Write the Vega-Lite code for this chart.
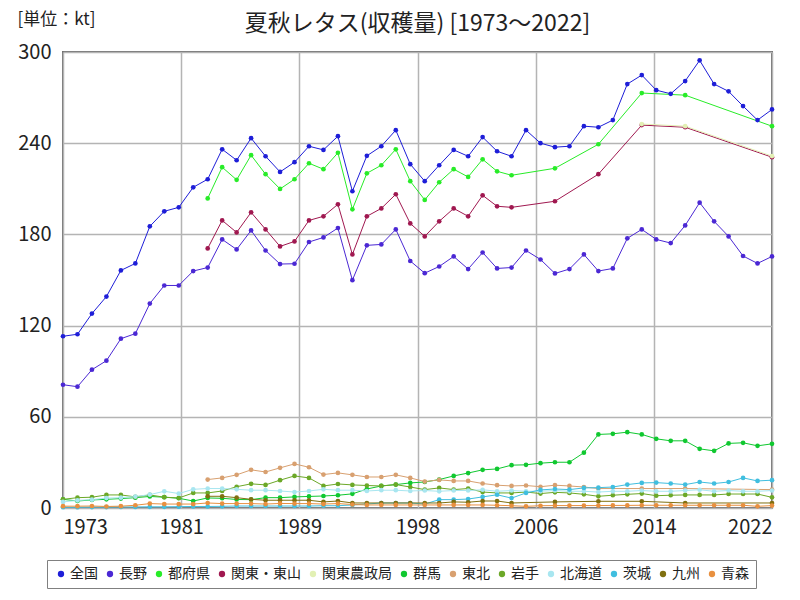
{
  "$schema": "https://vega.github.io/schema/vega-lite/v6.json",
  "width": 709,
  "height": 456,
  "autosize": {"type": "none"},
  "padding": {"left": 63, "top": 52, "right": 28, "bottom": 92},
  "background": "white",
  "title": {
    "text": "夏秋レタス(収穫量) [1973～2022]",
    "fontSize": 23,
    "font": "Noto Sans CJK JP",
    "fontWeight": "normal",
    "color": "#222",
    "anchor": "middle",
    "frame": "group",
    "offset": 8,
    "dy": 34
  },
  "config": {
    "view": {"stroke": "#707070", "strokeWidth": 2},
    "font": "Noto Sans CJK JP"
  },
  "data": {"values": [
{"s":"全国","y":1973,"v":113.0},{"s":"全国","y":1974,"v":114.3},{"s":"全国","y":1975,"v":127.9},{"s":"全国","y":1976,"v":139.1},{"s":"全国","y":1977,"v":156.3},{"s":"全国","y":1978,"v":160.9},{"s":"全国","y":1979,"v":185.3},{"s":"全国","y":1980,"v":195.2},{"s":"全国","y":1981,"v":197.8},{"s":"全国","y":1982,"v":211.0},{"s":"全国","y":1983,"v":216.3},{"s":"全国","y":1984,"v":236.0},{"s":"全国","y":1985,"v":228.8},{"s":"全国","y":1986,"v":243.3},{"s":"全国","y":1987,"v":231.4},{"s":"全国","y":1988,"v":221.1},{"s":"全国","y":1989,"v":227.5},{"s":"全国","y":1990,"v":238.0},{"s":"全国","y":1991,"v":235.6},{"s":"全国","y":1992,"v":244.6},{"s":"全国","y":1993,"v":208.4},{"s":"全国","y":1994,"v":231.7},{"s":"全国","y":1995,"v":238.0},{"s":"全国","y":1996,"v":248.6},{"s":"全国","y":1997,"v":226.2},{"s":"全国","y":1998,"v":215.0},{"s":"全国","y":1999,"v":225.5},{"s":"全国","y":2000,"v":235.6},{"s":"全国","y":2001,"v":231.4},{"s":"全国","y":2002,"v":244.0},{"s":"全国","y":2003,"v":234.7},{"s":"全国","y":2004,"v":231.4},{"s":"全国","y":2005,"v":248.6},{"s":"全国","y":2006,"v":240.0},{"s":"全国","y":2007,"v":237.4},{"s":"全国","y":2008,"v":238.0},{"s":"全国","y":2009,"v":251.2},{"s":"全国","y":2010,"v":250.5},{"s":"全国","y":2011,"v":255.2},{"s":"全国","y":2012,"v":278.9},{"s":"全国","y":2013,"v":284.8},{"s":"全国","y":2014,"v":274.9},{"s":"全国","y":2015,"v":272.5},{"s":"全国","y":2016,"v":280.9},{"s":"全国","y":2017,"v":294.5},{"s":"全国","y":2018,"v":278.9},{"s":"全国","y":2019,"v":274.1},{"s":"全国","y":2020,"v":264.4},{"s":"全国","y":2021,"v":255.2},{"s":"全国","y":2022,"v":262.2},
{"s":"長野","y":1973,"v":81.1},{"s":"長野","y":1974,"v":79.8},{"s":"長野","y":1975,"v":91.0},{"s":"長野","y":1976,"v":96.9},{"s":"長野","y":1977,"v":111.4},{"s":"長野","y":1978,"v":114.7},{"s":"長野","y":1979,"v":134.5},{"s":"長野","y":1980,"v":146.4},{"s":"長野","y":1981,"v":146.4},{"s":"長野","y":1982,"v":155.9},{"s":"長野","y":1983,"v":158.2},{"s":"長野","y":1984,"v":176.7},{"s":"長野","y":1985,"v":170.1},{"s":"長野","y":1986,"v":182.6},{"s":"長野","y":1987,"v":169.4},{"s":"長野","y":1988,"v":160.5},{"s":"長野","y":1989,"v":160.7},{"s":"長野","y":1990,"v":175.0},{"s":"長野","y":1991,"v":178.0},{"s":"長野","y":1992,"v":184.2},{"s":"長野","y":1993,"v":149.9},{"s":"長野","y":1994,"v":172.8},{"s":"長野","y":1995,"v":173.4},{"s":"長野","y":1996,"v":183.3},{"s":"長野","y":1997,"v":162.5},{"s":"長野","y":1998,"v":154.5},{"s":"長野","y":1999,"v":158.9},{"s":"長野","y":2000,"v":165.5},{"s":"長野","y":2001,"v":157.2},{"s":"長野","y":2002,"v":168.1},{"s":"長野","y":2003,"v":157.6},{"s":"長野","y":2004,"v":158.2},{"s":"長野","y":2005,"v":169.4},{"s":"長野","y":2006,"v":163.5},{"s":"長野","y":2007,"v":154.3},{"s":"長野","y":2008,"v":157.2},{"s":"長野","y":2009,"v":166.8},{"s":"長野","y":2010,"v":155.9},{"s":"長野","y":2011,"v":157.6},{"s":"長野","y":2012,"v":177.4},{"s":"長野","y":2013,"v":183.3},{"s":"長野","y":2014,"v":176.7},{"s":"長野","y":2015,"v":174.3},{"s":"長野","y":2016,"v":185.9},{"s":"長野","y":2017,"v":200.9},{"s":"長野","y":2018,"v":188.6},{"s":"長野","y":2019,"v":178.7},{"s":"長野","y":2020,"v":165.8},{"s":"長野","y":2021,"v":160.9},{"s":"長野","y":2022,"v":165.5},
{"s":"都府県","y":1983,"v":203.7},{"s":"都府県","y":1984,"v":224.2},{"s":"都府県","y":1985,"v":215.9},{"s":"都府県","y":1986,"v":232.1},{"s":"都府県","y":1987,"v":219.6},{"s":"都府県","y":1988,"v":209.9},{"s":"都府県","y":1989,"v":216.3},{"s":"都府県","y":1990,"v":226.8},{"s":"都府県","y":1991,"v":222.9},{"s":"都府県","y":1992,"v":233.7},{"s":"都府県","y":1993,"v":196.5},{"s":"都府県","y":1994,"v":220.2},{"s":"都府県","y":1995,"v":225.5},{"s":"都府県","y":1996,"v":236.0},{"s":"都府県","y":1997,"v":215.0},{"s":"都府県","y":1998,"v":202.7},{"s":"都府県","y":1999,"v":214.3},{"s":"都府県","y":2000,"v":222.9},{"s":"都府県","y":2001,"v":217.8},{"s":"都府県","y":2002,"v":229.4},{"s":"都府県","y":2003,"v":221.5},{"s":"都府県","y":2004,"v":218.9},{"s":"都府県","y":2007,"v":223.5},{"s":"都府県","y":2010,"v":239.3},{"s":"都府県","y":2013,"v":273.0},{"s":"都府県","y":2016,"v":271.6},{"s":"都府県","y":2022,"v":251.2},
{"s":"関東・東山","y":1983,"v":170.8},{"s":"関東・東山","y":1984,"v":189.2},{"s":"関東・東山","y":1985,"v":181.3},{"s":"関東・東山","y":1986,"v":194.5},{"s":"関東・東山","y":1987,"v":183.3},{"s":"関東・東山","y":1988,"v":172.1},{"s":"関東・東山","y":1989,"v":175.4},{"s":"関東・東山","y":1990,"v":189.2},{"s":"関東・東山","y":1991,"v":191.9},{"s":"関東・東山","y":1992,"v":199.8},{"s":"関東・東山","y":1993,"v":166.8},{"s":"関東・東山","y":1994,"v":191.9},{"s":"関東・東山","y":1995,"v":197.1},{"s":"関東・東山","y":1996,"v":206.4},{"s":"関東・東山","y":1997,"v":187.2},{"s":"関東・東山","y":1998,"v":178.7},{"s":"関東・東山","y":1999,"v":188.6},{"s":"関東・東山","y":2000,"v":197.1},{"s":"関東・東山","y":2001,"v":191.9},{"s":"関東・東山","y":2002,"v":205.7},{"s":"関東・東山","y":2003,"v":198.5},{"s":"関東・東山","y":2004,"v":197.8},{"s":"関東・東山","y":2007,"v":201.8},{"s":"関東・東山","y":2010,"v":219.6},{"s":"関東・東山","y":2013,"v":251.9},{"s":"関東・東山","y":2016,"v":250.5},{"s":"関東・東山","y":2022,"v":230.8},
{"s":"関東農政局","y":2013,"v":252.6},{"s":"関東農政局","y":2016,"v":251.2},{"s":"関東農政局","y":2022,"v":231.5},
{"s":"群馬","y":1973,"v":5.7},{"s":"群馬","y":1974,"v":4.6},{"s":"群馬","y":1975,"v":5.3},{"s":"群馬","y":1976,"v":5.7},{"s":"群馬","y":1977,"v":6.2},{"s":"群馬","y":1978,"v":6.8},{"s":"群馬","y":1979,"v":7.6},{"s":"群馬","y":1980,"v":7.1},{"s":"群馬","y":1981,"v":6.4},{"s":"群馬","y":1982,"v":4.6},{"s":"群馬","y":1983,"v":6.6},{"s":"群馬","y":1984,"v":6.4},{"s":"群馬","y":1985,"v":5.6},{"s":"群馬","y":1986,"v":5.5},{"s":"群馬","y":1987,"v":6.8},{"s":"群馬","y":1988,"v":6.8},{"s":"群馬","y":1989,"v":7.3},{"s":"群馬","y":1990,"v":7.6},{"s":"群馬","y":1991,"v":7.9},{"s":"群馬","y":1992,"v":8.4},{"s":"群馬","y":1993,"v":9.3},{"s":"群馬","y":1994,"v":12.5},{"s":"群馬","y":1995,"v":14.5},{"s":"群馬","y":1996,"v":15.4},{"s":"群馬","y":1997,"v":16.5},{"s":"群馬","y":1998,"v":17.1},{"s":"群馬","y":1999,"v":18.7},{"s":"群馬","y":2000,"v":21.1},{"s":"群馬","y":2001,"v":23.0},{"s":"群馬","y":2002,"v":25.1},{"s":"群馬","y":2003,"v":25.7},{"s":"群馬","y":2004,"v":28.2},{"s":"群馬","y":2005,"v":28.4},{"s":"群馬","y":2006,"v":29.5},{"s":"群馬","y":2007,"v":30.1},{"s":"群馬","y":2008,"v":30.1},{"s":"群馬","y":2009,"v":36.4},{"s":"群馬","y":2010,"v":48.4},{"s":"群馬","y":2011,"v":48.8},{"s":"群馬","y":2012,"v":49.9},{"s":"群馬","y":2013,"v":48.4},{"s":"群馬","y":2014,"v":45.5},{"s":"群馬","y":2015,"v":44.2},{"s":"群馬","y":2016,"v":44.2},{"s":"群馬","y":2017,"v":38.9},{"s":"群馬","y":2018,"v":37.6},{"s":"群馬","y":2019,"v":42.5},{"s":"群馬","y":2020,"v":42.9},{"s":"群馬","y":2021,"v":40.9},{"s":"群馬","y":2022,"v":42.2},
{"s":"東北","y":1983,"v":18.7},{"s":"東北","y":1984,"v":19.8},{"s":"東北","y":1985,"v":21.8},{"s":"東北","y":1986,"v":25.1},{"s":"東北","y":1987,"v":23.7},{"s":"東北","y":1988,"v":26.4},{"s":"東北","y":1989,"v":29.0},{"s":"東北","y":1990,"v":26.8},{"s":"東北","y":1991,"v":22.0},{"s":"東北","y":1992,"v":23.1},{"s":"東北","y":1993,"v":21.8},{"s":"東北","y":1994,"v":20.4},{"s":"東北","y":1995,"v":20.4},{"s":"東北","y":1996,"v":21.8},{"s":"東北","y":1997,"v":19.8},{"s":"東北","y":1998,"v":17.4},{"s":"東北","y":1999,"v":18.5},{"s":"東北","y":2000,"v":17.8},{"s":"東北","y":2001,"v":17.8},{"s":"東北","y":2002,"v":16.1},{"s":"東北","y":2003,"v":15.0},{"s":"東北","y":2004,"v":14.5},{"s":"東北","y":2005,"v":14.8},{"s":"東北","y":2006,"v":14.0},{"s":"東北","y":2007,"v":15.0},{"s":"東北","y":2008,"v":14.5},{"s":"東北","y":2009,"v":13.8},{"s":"東北","y":2010,"v":12.8},{"s":"東北","y":2013,"v":12.8},{"s":"東北","y":2016,"v":12.8},{"s":"東北","y":2022,"v":12.1},
{"s":"岩手","y":1973,"v":5.7},{"s":"岩手","y":1974,"v":6.8},{"s":"岩手","y":1975,"v":7.1},{"s":"岩手","y":1976,"v":8.6},{"s":"岩手","y":1977,"v":8.6},{"s":"岩手","y":1978,"v":7.3},{"s":"岩手","y":1979,"v":8.6},{"s":"岩手","y":1980,"v":7.1},{"s":"岩手","y":1981,"v":6.6},{"s":"岩手","y":1982,"v":9.9},{"s":"岩手","y":1983,"v":9.9},{"s":"岩手","y":1984,"v":11.2},{"s":"岩手","y":1985,"v":14.0},{"s":"岩手","y":1986,"v":15.9},{"s":"岩手","y":1987,"v":15.2},{"s":"岩手","y":1988,"v":18.3},{"s":"岩手","y":1989,"v":21.1},{"s":"岩手","y":1990,"v":19.8},{"s":"岩手","y":1991,"v":14.5},{"s":"岩手","y":1992,"v":15.8},{"s":"岩手","y":1993,"v":15.2},{"s":"岩手","y":1994,"v":14.8},{"s":"岩手","y":1995,"v":14.5},{"s":"岩手","y":1996,"v":15.4},{"s":"岩手","y":1997,"v":13.8},{"s":"岩手","y":1998,"v":12.1},{"s":"岩手","y":1999,"v":13.2},{"s":"岩手","y":2000,"v":12.1},{"s":"岩手","y":2001,"v":12.8},{"s":"岩手","y":2002,"v":10.5},{"s":"岩手","y":2003,"v":9.9},{"s":"岩手","y":2004,"v":9.9},{"s":"岩手","y":2005,"v":10.5},{"s":"岩手","y":2006,"v":9.5},{"s":"岩手","y":2007,"v":10.3},{"s":"岩手","y":2008,"v":9.9},{"s":"岩手","y":2009,"v":9.0},{"s":"岩手","y":2010,"v":7.7},{"s":"岩手","y":2011,"v":8.4},{"s":"岩手","y":2012,"v":9.0},{"s":"岩手","y":2013,"v":9.5},{"s":"岩手","y":2014,"v":8.1},{"s":"岩手","y":2015,"v":8.4},{"s":"岩手","y":2016,"v":8.6},{"s":"岩手","y":2017,"v":8.6},{"s":"岩手","y":2018,"v":8.6},{"s":"岩手","y":2019,"v":9.2},{"s":"岩手","y":2020,"v":9.2},{"s":"岩手","y":2021,"v":9.2},{"s":"岩手","y":2022,"v":7.0},
{"s":"北海道","y":1973,"v":4.0},{"s":"北海道","y":1974,"v":5.0},{"s":"北海道","y":1975,"v":5.5},{"s":"北海道","y":1976,"v":6.5},{"s":"北海道","y":1977,"v":6.8},{"s":"北海道","y":1978,"v":7.5},{"s":"北海道","y":1979,"v":8.8},{"s":"北海道","y":1980,"v":11.0},{"s":"北海道","y":1981,"v":9.5},{"s":"北海道","y":1982,"v":12.3},{"s":"北海道","y":1983,"v":12.8},{"s":"北海道","y":1984,"v":12.8},{"s":"北海道","y":1985,"v":12.3},{"s":"北海道","y":1986,"v":11.7},{"s":"北海道","y":1987,"v":11.7},{"s":"北海道","y":1988,"v":11.2},{"s":"北海道","y":1989,"v":10.5},{"s":"北海道","y":1990,"v":11.2},{"s":"北海道","y":1991,"v":12.3},{"s":"北海道","y":1992,"v":11.7},{"s":"北海道","y":1993,"v":11.7},{"s":"北海道","y":1994,"v":11.2},{"s":"北海道","y":1995,"v":11.7},{"s":"北海道","y":1996,"v":11.7},{"s":"北海道","y":1997,"v":11.2},{"s":"北海道","y":1998,"v":11.5},{"s":"北海道","y":1999,"v":11.0},{"s":"北海道","y":2000,"v":11.5},{"s":"北海道","y":2001,"v":11.5},{"s":"北海道","y":2002,"v":12.0},{"s":"北海道","y":2003,"v":11.0},{"s":"北海道","y":2004,"v":11.5},{"s":"北海道","y":2005,"v":11.0},{"s":"北海道","y":2006,"v":11.0},{"s":"北海道","y":2007,"v":11.5},{"s":"北海道","y":2008,"v":11.0},{"s":"北海道","y":2009,"v":11.0},{"s":"北海道","y":2010,"v":10.5},{"s":"北海道","y":2011,"v":11.0},{"s":"北海道","y":2012,"v":11.0},{"s":"北海道","y":2013,"v":11.5},{"s":"北海道","y":2014,"v":11.0},{"s":"北海道","y":2015,"v":11.0},{"s":"北海道","y":2016,"v":11.5},{"s":"北海道","y":2017,"v":12.0},{"s":"北海道","y":2018,"v":11.0},{"s":"北海道","y":2019,"v":11.5},{"s":"北海道","y":2020,"v":11.0},{"s":"北海道","y":2021,"v":11.0},{"s":"北海道","y":2022,"v":11.5},
{"s":"茨城","y":1973,"v":0.5},{"s":"茨城","y":1974,"v":0.5},{"s":"茨城","y":1975,"v":0.6},{"s":"茨城","y":1976,"v":0.6},{"s":"茨城","y":1977,"v":0.7},{"s":"茨城","y":1978,"v":0.7},{"s":"茨城","y":1979,"v":0.8},{"s":"茨城","y":1980,"v":0.8},{"s":"茨城","y":1981,"v":0.9},{"s":"茨城","y":1982,"v":1.0},{"s":"茨城","y":1983,"v":1.0},{"s":"茨城","y":1984,"v":1.1},{"s":"茨城","y":1985,"v":1.3},{"s":"茨城","y":1986,"v":1.3},{"s":"茨城","y":1987,"v":1.3},{"s":"茨城","y":1988,"v":1.3},{"s":"茨城","y":1989,"v":1.3},{"s":"茨城","y":1990,"v":1.3},{"s":"茨城","y":1991,"v":1.5},{"s":"茨城","y":1992,"v":1.5},{"s":"茨城","y":1993,"v":2.0},{"s":"茨城","y":1994,"v":2.6},{"s":"茨城","y":1995,"v":3.3},{"s":"茨城","y":1996,"v":3.3},{"s":"茨城","y":1997,"v":3.3},{"s":"茨城","y":1998,"v":2.6},{"s":"茨城","y":1999,"v":5.5},{"s":"茨城","y":2000,"v":5.5},{"s":"茨城","y":2001,"v":5.9},{"s":"茨城","y":2002,"v":7.3},{"s":"茨城","y":2003,"v":8.7},{"s":"茨城","y":2004,"v":6.5},{"s":"茨城","y":2005,"v":9.9},{"s":"茨城","y":2006,"v":11.9},{"s":"茨城","y":2007,"v":12.5},{"s":"茨城","y":2008,"v":12.1},{"s":"茨城","y":2009,"v":13.2},{"s":"茨城","y":2010,"v":13.4},{"s":"茨城","y":2011,"v":13.8},{"s":"茨城","y":2012,"v":15.4},{"s":"茨城","y":2013,"v":16.5},{"s":"茨城","y":2014,"v":16.7},{"s":"茨城","y":2015,"v":16.1},{"s":"茨城","y":2016,"v":15.4},{"s":"茨城","y":2017,"v":17.1},{"s":"茨城","y":2018,"v":16.1},{"s":"茨城","y":2019,"v":17.1},{"s":"茨城","y":2020,"v":19.8},{"s":"茨城","y":2021,"v":17.8},{"s":"茨城","y":2022,"v":18.3},
{"s":"九州","y":1983,"v":7.7},{"s":"九州","y":1984,"v":7.7},{"s":"九州","y":1985,"v":6.8},{"s":"九州","y":1986,"v":5.7},{"s":"九州","y":1987,"v":5.1},{"s":"九州","y":1988,"v":5.1},{"s":"九州","y":1989,"v":5.1},{"s":"九州","y":1990,"v":5.1},{"s":"九州","y":1991,"v":4.0},{"s":"九州","y":1992,"v":4.6},{"s":"九州","y":1993,"v":3.3},{"s":"九州","y":1994,"v":3.3},{"s":"九州","y":1995,"v":3.3},{"s":"九州","y":1996,"v":3.3},{"s":"九州","y":1997,"v":3.3},{"s":"九州","y":1998,"v":3.3},{"s":"九州","y":1999,"v":3.3},{"s":"九州","y":2000,"v":4.0},{"s":"九州","y":2001,"v":3.8},{"s":"九州","y":2002,"v":4.6},{"s":"九州","y":2003,"v":4.6},{"s":"九州","y":2004,"v":3.3},{"s":"九州","y":2007,"v":4.0},{"s":"九州","y":2010,"v":4.4},{"s":"九州","y":2013,"v":4.4},{"s":"九州","y":2016,"v":3.3},{"s":"九州","y":2022,"v":3.3},
{"s":"青森","y":1973,"v":1.2},{"s":"青森","y":1974,"v":1.2},{"s":"青森","y":1975,"v":1.3},{"s":"青森","y":1976,"v":1.0},{"s":"青森","y":1977,"v":1.2},{"s":"青森","y":1978,"v":1.8},{"s":"青森","y":1979,"v":2.9},{"s":"青森","y":1980,"v":2.6},{"s":"青森","y":1981,"v":2.6},{"s":"青森","y":1982,"v":2.6},{"s":"青森","y":1983,"v":3.3},{"s":"青森","y":1984,"v":2.9},{"s":"青森","y":1985,"v":2.9},{"s":"青森","y":1986,"v":2.9},{"s":"青森","y":1987,"v":2.6},{"s":"青森","y":1988,"v":3.0},{"s":"青森","y":1989,"v":2.9},{"s":"青森","y":1990,"v":2.9},{"s":"青森","y":1991,"v":2.6},{"s":"青森","y":1992,"v":2.9},{"s":"青森","y":1993,"v":2.3},{"s":"青森","y":1994,"v":2.0},{"s":"青森","y":1995,"v":2.0},{"s":"青森","y":1996,"v":2.0},{"s":"青森","y":1997,"v":2.0},{"s":"青森","y":1998,"v":2.0},{"s":"青森","y":1999,"v":2.0},{"s":"青森","y":2000,"v":2.0},{"s":"青森","y":2001,"v":2.0},{"s":"青森","y":2002,"v":2.0},{"s":"青森","y":2003,"v":1.8},{"s":"青森","y":2004,"v":1.5},{"s":"青森","y":2005,"v":1.1},{"s":"青森","y":2006,"v":1.5},{"s":"青森","y":2007,"v":1.6},{"s":"青森","y":2008,"v":1.6},{"s":"青森","y":2009,"v":1.6},{"s":"青森","y":2010,"v":1.6},{"s":"青森","y":2011,"v":1.7},{"s":"青森","y":2012,"v":1.7},{"s":"青森","y":2013,"v":1.8},{"s":"青森","y":2014,"v":1.8},{"s":"青森","y":2015,"v":1.8},{"s":"青森","y":2016,"v":1.8},{"s":"青森","y":2017,"v":1.8},{"s":"青森","y":2018,"v":1.8},{"s":"青森","y":2019,"v":1.8},{"s":"青森","y":2020,"v":1.8},{"s":"青森","y":2021,"v":1.1},{"s":"青森","y":2022,"v":1.6}
  ]},
  "mark": {"type": "line", "strokeWidth": 1, "point": {"filled": true, "size": 22, "opacity": 1}},
  "encoding": {
    "x": {
      "field": "y", "type": "quantitative",
      "scale": {"domain": [1973, 2022], "nice": false, "zero": false},
      "axis": {
        "title": null,
        "values": [1973, 1981.1667, 1989.3333, 1997.5, 2005.6667, 2013.8333, 2022],
        "format": "d",
        "grid": true, "gridColor": "#b4b4b4", "gridWidth": 1.5,
        "domain": false, "ticks": false,
        "labelFontSize": 20, "labelColor": "#222", "labelPadding": 9,
        "labelFont": "Noto Sans CJK JP"
      }
    },
    "y": {
      "field": "v", "type": "quantitative",
      "scale": {"domain": [0, 300], "nice": false},
      "axis": {
        "title": "[単位：kt]",
        "titleAngle": 0, "titleX": -46, "titleY": -33, "titleAlign": "left", "titleBaseline": "middle",
        "titleFontSize": 17, "titleFontWeight": "normal", "titleColor": "#222",
        "values": [0, 60, 120, 180, 240, 300],
        "grid": true, "gridColor": "#b4b4b4", "gridWidth": 1.5,
        "domain": false, "ticks": false,
        "labelFontSize": 20, "labelColor": "#222", "labelPadding": 12,
        "labelFont": "Noto Sans CJK JP"
      }
    },
    "color": {
      "field": "s", "type": "nominal",
      "sort": ["全国","長野","都府県","関東・東山","関東農政局","群馬","東北","岩手","北海道","茨城","九州","青森"],
      "scale": {
        "domain": ["全国","長野","都府県","関東・東山","関東農政局","群馬","東北","岩手","北海道","茨城","九州","青森"],
        "range": ["#1e1ed8","#4b28d4","#28ec28","#a01850","#e2f0b4","#10c830","#d8a070","#6ca828","#a8e6f0","#40bedf","#807010","#e89040"]
      },
      "legend": {
        "title": null,
        "orient": "none",
        "direction": "horizontal",
        "columns": 12,
        "legendX": -16,
        "legendY": 508,
        "strokeColor": "#808080",
        "padding": 7,
        "symbolType": "circle",
        "symbolSize": 40,
        "symbolStrokeWidth": 0,
        "labelFontSize": 14,
        "labelColor": "#222",
        "labelFont": "Noto Sans CJK JP",
        "columnPadding": 5,
        "labelOffset": 2
      }
    }
  }
}
